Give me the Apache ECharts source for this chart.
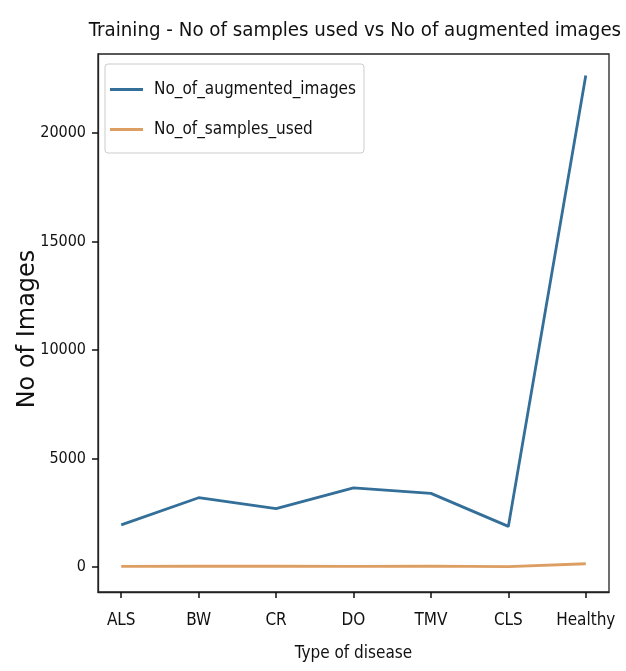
<!DOCTYPE html>
<html>
<head>
<meta charset="utf-8">
<script src="https://cdn.jsdelivr.net/npm/echarts@6/dist/echarts.min.js"></script>
<style>
  html, body { margin: 0; padding: 0; background: #fff; }
  #chart { width: 626px; height: 671px; }
</style>
</head>
<body>
<div id="chart"></div>
<script>
// Disease classes on the x axis
const categories = ['ALS', 'BW', 'CR', 'DO', 'TMV', 'CLS', 'Healthy'];
// Image counts per class
const augmentedImages = [1950, 3200, 2700, 3650, 3400, 1880, 22650];
const samplesUsed = [40, 50, 45, 40, 50, 30, 160];
// Y axis tick values
const yTicks = [0, 5000, 10000, 15000, 20000];
const xTicks = categories.map((_, i) => i);

const condensed = '"DejaVu Sans Condensed", "DejaVu Sans", sans-serif';
const toPairs = arr => arr.map((v, i) => [i, v]);
const frame = { color: '#222', width: 1.3 };
const tickStyle = { color: '#111', width: 1.5 };

const chart = echarts.init(document.getElementById('chart'), null, { renderer: 'canvas' });
chart.setOption({
  animation: false,
  backgroundColor: '#fff',
  title: {
    text: 'Training - No of samples used vs No of augmented images',
    left: 350,
    top: 16,
    textAlign: 'center',
    textStyle: { fontFamily: condensed, fontSize: 20.3, fontWeight: 'normal', color: '#111' }
  },
  legend: {
    orient: 'vertical',
    left: 105,
    top: 64,
    padding: [17, 8, 15, 5],
    itemGap: 23,
    itemWidth: 33,
    itemHeight: 3,
    icon: 'rect',
    backgroundColor: '#fff',
    borderColor: '#cccccc',
    borderWidth: 1,
    borderRadius: 3,
    textStyle: { fontFamily: condensed, fontSize: 17, color: '#111', padding: [0, 0, 0, 6] },
    data: ['No_of_augmented_images', 'No_of_samples_used']
  },
  grid: {
    left: 98, right: 17, top: 54, bottom: 79,
    containLabel: false,
    outerBoundsMode: 'none',
    show: true, borderColor: frame.color, borderWidth: frame.width, backgroundColor: 'transparent'
  },
  xAxis: {
    type: 'value',
    min: -0.3, max: 6.3,
    name: 'Type of disease',
    nameLocation: 'middle',
    nameGap: 53,
    nameMoveOverlap: false,
    nameTextStyle: { fontFamily: condensed, fontSize: 17, color: '#111' },
    axisLine: { show: true, onZero: false, lineStyle: frame },
    splitLine: { show: false },
    axisTick: { show: true, inside: false, customValues: xTicks, length: 6, lineStyle: tickStyle },
    axisLabel: {
      customValues: xTicks, margin: 20,
      fontFamily: condensed, fontSize: 17, color: '#111',
      formatter: v => categories[Math.round(v)]
    }
  },
  yAxis: {
    type: 'value',
    min: -1141, max: 23635,
    name: 'No of Images',
    nameLocation: 'middle',
    nameRotate: 90,
    nameGap: 58,
    nameMoveOverlap: false,
    nameTextStyle: { fontFamily: 'DejaVu Sans', fontSize: 24, color: '#111', padding: [0, 12, 0, 0] },
    axisLine: { show: true, onZero: false, lineStyle: frame },
    splitLine: { show: false },
    axisTick: { show: true, inside: false, customValues: yTicks, length: 6, lineStyle: tickStyle },
    axisLabel: {
      customValues: yTicks, margin: 12,
      fontFamily: condensed, fontSize: 16, color: '#111',
      formatter: v => String(v)
    }
  },
  series: [
    {
      name: 'No_of_augmented_images',
      type: 'line',
      data: toPairs(augmentedImages),
      showSymbol: false,
      lineStyle: { color: '#336f99', width: 2.8 },
      itemStyle: { color: '#336f99' },
      z: 3
    },
    {
      name: 'No_of_samples_used',
      type: 'line',
      data: toPairs(samplesUsed),
      showSymbol: false,
      lineStyle: { color: '#dc9e62', width: 2.8 },
      itemStyle: { color: '#dc9e62' },
      z: 2
    }
  ]
});
</script>
</body>
</html>
